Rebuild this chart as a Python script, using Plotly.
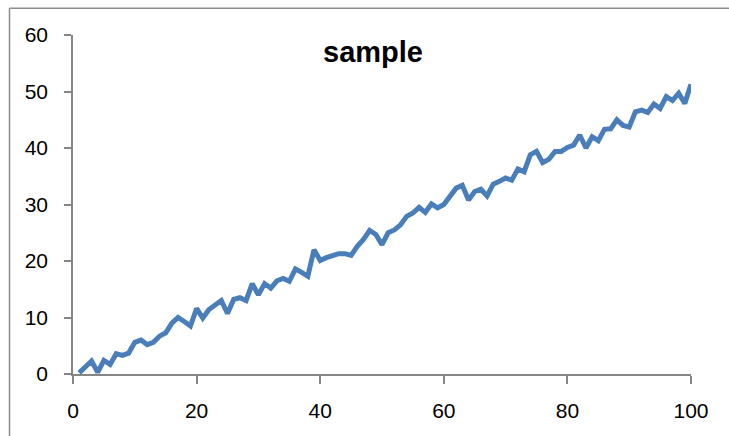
import plotly.graph_objects as go

x_values = list(range(1, 101))
y_values = [
    0.2, 1.3, 2.3, 0.3, 2.4, 1.7, 3.6, 3.3, 3.7, 5.6,
    6.0, 5.2, 5.6, 6.7, 7.3, 9.0, 10.0, 9.3, 8.5, 11.6,
    9.9, 11.4, 12.2, 13.0, 10.7, 13.2, 13.5, 13.0, 16.0, 14.0,
    16.0, 15.2, 16.5, 16.9, 16.4, 18.6, 18.0, 17.3, 22.0, 20.1,
    20.6, 21.0, 21.3, 21.3, 21.0, 22.6, 23.8, 25.4, 24.7, 22.9,
    25.0, 25.5, 26.4, 27.9, 28.5, 29.5, 28.6, 30.1, 29.4, 30.0,
    31.4, 32.9, 33.4, 30.8, 32.3, 32.7, 31.5, 33.6, 34.1, 34.7,
    34.3, 36.3, 35.8, 38.8, 39.4, 37.4, 38.0, 39.4, 39.4, 40.1,
    40.5, 42.3, 40.0, 42.0, 41.3, 43.3, 43.4, 45.0, 44.0, 43.7,
    46.4, 46.7, 46.3, 47.8, 47.0, 49.1, 48.4, 49.7, 47.9, 51.3,
]
x_ticks = [0, 20, 40, 60, 80, 100]
y_ticks = [0, 10, 20, 30, 40, 50, 60]
title_text = "sample"

W, H = 729, 436
L, R, T, B = 73, 691, 35, 374.5

def px_x(p):
    return (p - L) / (R - L)

def px_y(p):
    return (B - p) / (B - T)

fig = go.Figure()
fig.add_trace(go.Scatter(
    x=x_values, y=y_values, mode="lines",
    line=dict(color="#4a7ebb", width=5),
    showlegend=False, hoverinfo="skip",
))

axis_color = "#868686"
font_family = "Liberation Sans, Arial, sans-serif"

fig.update_layout(
    width=W, height=H,
    margin=dict(l=L, r=W - R, t=T, b=H - B),
    paper_bgcolor="white", plot_bgcolor="white",
    title=dict(
        text="<b>" + title_text + "</b>",
        x=373 / W, xref="container", xanchor="center",
        y=1 - 52 / H, yref="container", yanchor="middle",
        font=dict(family=font_family, size=29, color="black"),
    ),
    xaxis=dict(
        range=[0, 100], tickvals=x_ticks, showgrid=False, zeroline=False,
        showline=True, linecolor=axis_color, linewidth=1.5,
        ticks="outside", ticklen=8, tickwidth=1.5, tickcolor=axis_color,
        tickfont=dict(family=font_family, size=21, color="black"),
        ticklabelstandoff=9,
    ),
    yaxis=dict(
        range=[0, 60], tickvals=y_ticks, showgrid=False, zeroline=False,
        showline=True, linecolor=axis_color, linewidth=1.5,
        ticks="outside", ticklen=7, tickwidth=1.5, tickcolor=axis_color,
        tickfont=dict(family=font_family, size=21, color="black"),
        ticklabelstandoff=12,
    ),
    shapes=[
        dict(type="line", xref="paper", yref="paper",
             x0=px_x(9.5), x1=px_x(9.5), y0=px_y(8.3), y1=px_y(460),
             line=dict(color="#8c8c8c", width=1.5)),
        dict(type="line", xref="paper", yref="paper",
             x0=px_x(9.5), x1=px_x(760), y0=px_y(8.3), y1=px_y(8.3),
             line=dict(color="#8c8c8c", width=1.5)),
    ],
)

fig.write_html("out.html")
